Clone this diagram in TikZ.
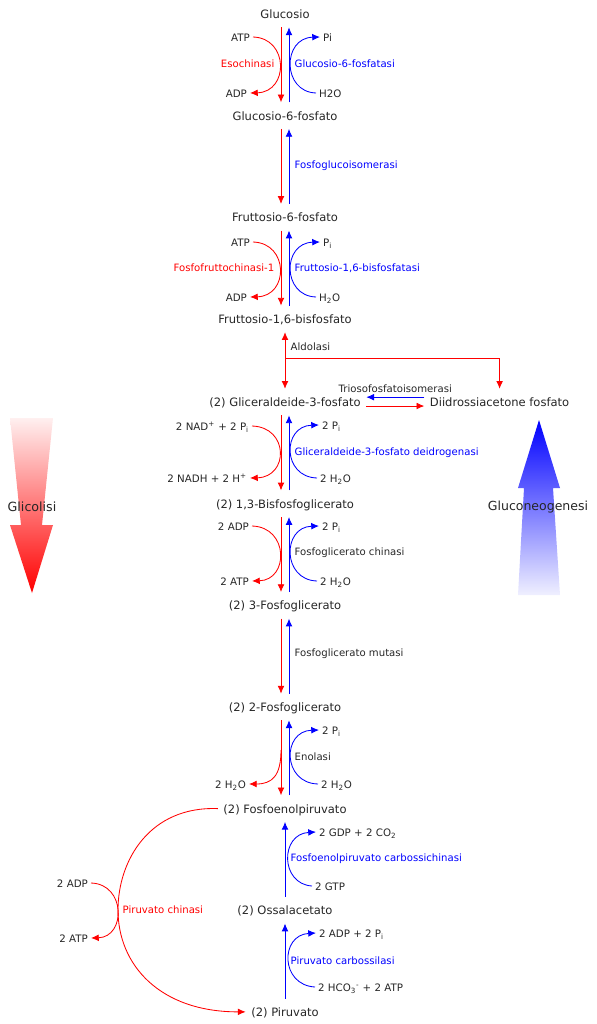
\documentclass[tikz,border=0pt]{standalone}
\usepackage{fontspec}
\setmainfont{DejaVu Sans}
\usepackage{tikz}
\usetikzlibrary{arrows.meta,positioning}

\begin{document}
\begin{tikzpicture}[x=0.025cm,y=-0.025cm,node distance=2.54cm,
	font=\fontsize{8.2}{10}\selectfont,text=black!85,
	met/.style={inner sep=1pt,outer sep=3pt,text height=1.6ex,text depth=0.4ex},
	cof/.style={inner sep=2pt,font=\fontsize{7.3}{9}\selectfont,text height=1.6ex,text depth=0.4ex},
	lab/.style={inner sep=1pt,font=\fontsize{7.2}{9}\selectfont},
	rd/.style={draw=red,line width=0.6pt},
	bl/.style={draw=blue,line width=0.6pt},
	>={Latex[length=5.5pt,width=4.8pt]}]

\useasboundingbox (0,0) rectangle (597,1024);

% big arrows
\shade[top color=red!6,bottom color=red] (10,418) -- (53,418) -- (42,525) -- (53,525)
	-- (32,593) -- (10,525) -- (21,525) -- cycle;
\shade[top color=blue,bottom color=blue!6] (539,420) -- (560,488) -- (553,488) -- (560,595)
	-- (518,595) -- (524,488) -- (518,488) -- cycle;
\node (glic) at (32,507) {\fontsize{9}{11}\selectfont Glicolisi};
\node (gneo) at (538,507) {\fontsize{8.9}{11}\selectfont Gluconeogenesi};

% metaboliti
\node[met] (glc) at (285,14) {Glucosio};
\node[met] (g6p) [below of=glc] {Glucosio-6-fosfato};
\node[met] (f6p) [below of=g6p] {Fruttosio-6-fosfato};
\node[met] (fbp) [below of=f6p] {Fruttosio-1,6-bisfosfato};
\node[met] (gap) [below of=fbp,node distance=2.08cm] {(2) Gliceraldeide-3-fosfato};
\node[met] (dhap) [right=1.45cm of gap] {Diidrossiacetone fosfato};
\node[met] (bpg) [below of=gap] {(2) 1,3-Bisfosfoglicerato};
\node[met] (pg3) [below of=bpg] {(2) 3-Fosfoglicerato};
\node[met] (pg2) [below of=pg3] {(2) 2-Fosfoglicerato};
\node[met] (pep) [below of=pg2] {(2) Fosfoenolpiruvato};
\node[met] (oaa) [below of=pep] {(2) Ossalacetato};
\node[met] (pyr) [below of=oaa] {(2) Piruvato};

% reazioni reversibili
\path[->]
	([xshift=-0.1cm]glc.south) edge[rd] ([xshift=-0.1cm]g6p.north)
	([xshift=0.1cm]g6p.north) edge[bl] ([xshift=0.1cm]glc.south)
	([xshift=-0.1cm]g6p.south) edge[rd] ([xshift=-0.1cm]f6p.north)
	([xshift=0.1cm]f6p.north) edge[bl] ([xshift=0.1cm]g6p.south)
	([xshift=-0.1cm]f6p.south) edge[rd] ([xshift=-0.1cm]fbp.north)
	([xshift=0.1cm]fbp.north) edge[bl] ([xshift=0.1cm]f6p.south)
	([xshift=-0.1cm]gap.south) edge[rd] ([xshift=-0.1cm]bpg.north)
	([xshift=0.1cm]bpg.north) edge[bl] ([xshift=0.1cm]gap.south)
	([xshift=-0.1cm]bpg.south) edge[rd] ([xshift=-0.1cm]pg3.north)
	([xshift=0.1cm]pg3.north) edge[bl] ([xshift=0.1cm]bpg.south)
	([xshift=-0.1cm]pg3.south) edge[rd] ([xshift=-0.1cm]pg2.north)
	([xshift=0.1cm]pg2.north) edge[bl] ([xshift=0.1cm]pg3.south)
	([xshift=-0.1cm]pg2.south) edge[rd] ([xshift=-0.1cm]pep.north)
	([xshift=0.1cm]pep.north) edge[bl] ([xshift=0.1cm]pg2.south)
	(oaa) edge[bl] (pep)
	(pyr) edge[bl] (oaa);

% esochinasi / glucosio-6-fosfatasi
\node[cof,anchor=east] (atp1) at (253,37) {ATP};
\node[cof,anchor=east] (adp1) at (250,93) {ADP};
\node[cof,anchor=west] (pi1) at (320,37) {Pi};
\node[cof,anchor=west] (h2o1) at (316,93) {H2O};
\node[lab,anchor=east,text=red] (hk) at (276,64) {Esochinasi};
\node[lab,anchor=west,text=blue] (g6pase) at (293,64) {Glucosio-6-fosfatasi};
\draw[rd,->] (atp1.east) .. controls (289,38) and (289,92) .. (adp1.east);
\draw[bl,->] (h2o1.west) .. controls (282,92) and (282,38) .. (pi1.west);

\node[lab,anchor=west,text=blue] (pgi) at (293,166) {Fosfoglucoisomerasi};

% fosfofruttochinasi / fruttosio-1,6-bisfosfatasi
\node[cof,anchor=east] (atp2) at (253,242) {ATP};
\node[cof,anchor=east] (adp2) at (250,297) {ADP};
\node[cof,anchor=west] (pi2) at (320,242) {P\textsubscript{i}};
\node[cof,anchor=west] (h2o2) at (316,297) {H\textsubscript{2}O};
\node[lab,anchor=east,text=red] (pfk) at (276,268) {Fosfofruttochinasi-1};
\node[lab,anchor=west,text=blue] (fbpase) at (293,268) {Fruttosio-1,6-bisfosfatasi};
\draw[rd,->] (atp2.east) .. controls (289,243) and (289,296) .. (adp2.east);
\draw[bl,->] (h2o2.west) .. controls (282,296) and (282,243) .. (pi2.west);

% aldolasi e triosofosfatoisomerasi
\draw[rd,<->] (fbp) -- (gap);
\coordinate (ald) at (285,358);
\node[lab,anchor=west] (aldl) at (289,347) {Aldolasi};
\draw[rd,->] (ald) -| (dhap.north);
\draw[bl,->] ([yshift=3.5pt]dhap.west) -- node[lab,above=2pt] (tim) {Triosofosfatoisomerasi} ([yshift=3.5pt]gap.east);
\draw[rd,->] ([yshift=-2.8pt]gap.east) -- ([yshift=-2.8pt]dhap.west);

% gliceraldeide-3-fosfato deidrogenasi
\node[cof,anchor=east] (nad) at (252,426) {2 NAD\textsuperscript{+} + 2 P\textsubscript{i}};
\node[cof,anchor=east] (nadh) at (250,478) {2 NADH + 2 H\textsuperscript{+}};
\node[cof,anchor=west] (pi3) at (319,425) {2 P\textsubscript{i}};
\node[cof,anchor=west] (h2o3) at (317,478) {2 H\textsubscript{2}O};
\node[lab,anchor=west,text=blue] (gapdh) at (293,453) {Gliceraldeide-3-fosfato deidrogenasi};
\draw[rd,->] (nad.east) .. controls (289,427) and (289,477) .. (nadh.east);
\draw[bl,->] (h2o3.west) .. controls (282,477) and (282,426) .. (pi3.west);

% fosfoglicerato chinasi
\node[cof,anchor=east] (adp4) at (252,526) {2 ADP};
\node[cof,anchor=east] (atp4) at (252,581) {2 ATP};
\node[cof,anchor=west] (pi4) at (319,526) {2 P\textsubscript{i}};
\node[cof,anchor=west] (h2o4) at (317,581) {2 H\textsubscript{2}O};
\node[lab,anchor=west] (pgk) at (293,553) {Fosfoglicerato chinasi};
\draw[rd,->] (adp4.east) .. controls (289,527) and (289,580) .. (atp4.east);
\draw[bl,->] (h2o4.west) .. controls (282,580) and (282,527) .. (pi4.west);

\node[lab,anchor=west] (pgm) at (293,654) {Fosfoglicerato mutasi};

% enolasi
\coordinate (enor) at (281,750);
\node[cof,anchor=east] (h2o5) at (249,784) {2 H\textsubscript{2}O};
\node[cof,anchor=west] (pi5) at (319,730) {2 P\textsubscript{i}};
\node[cof,anchor=west] (h2o6) at (318,784) {2 H\textsubscript{2}O};
\node[lab,anchor=west] (eno) at (293,757) {Enolasi};
\draw[rd,->] (enor) .. controls (281,776) and (272,784) .. (h2o5.east);
\draw[bl,->] (h2o6.west) .. controls (282,783) and (282,731) .. (pi5.west);

% fosfoenolpiruvato carbossichinasi
\node[cof,anchor=west] (gdp) at (316,832) {2 GDP + 2 CO\textsubscript{2}};
\node[cof,anchor=west] (gtp) at (312,886) {2 GTP};
\node[lab,anchor=west,text=blue] (pepck) at (289,859) {Fosfoenolpiruvato carbossichinasi};
\draw[bl,->] (gtp.west) .. controls (280,884) and (280,834) .. (gdp.west);

% piruvato carbossilasi
\node[cof,anchor=west] (adp7) at (316,933) {2 ADP + 2 P\textsubscript{i}};
\node[cof,anchor=west] (hco3) at (315,987) {2 HCO\textsubscript{3}\textsuperscript{-} + 2 ATP};
\node[lab,anchor=west,text=blue] (pc) at (289,961) {Piruvato carbossilasi};
\draw[bl,->] (hco3.west) .. controls (280,985) and (280,935) .. (adp7.west);

% piruvato chinasi
\node[cof,anchor=east] (adp8) at (91,883) {2 ADP};
\node[cof,anchor=east] (atp8) at (91,938) {2 ATP};
\node[lab,anchor=west,text=red] (pk) at (121,910) {Piruvato chinasi};
\draw[rd,->] (pep.west) .. controls (150,806) and (118,860) .. (118,910)
	.. controls (118,965) and (160,1012) .. (pyr.west);
\draw[rd,->] (adp8.east) .. controls (126,884) and (126,937) .. (atp8.east);

\end{tikzpicture}
\end{document}
